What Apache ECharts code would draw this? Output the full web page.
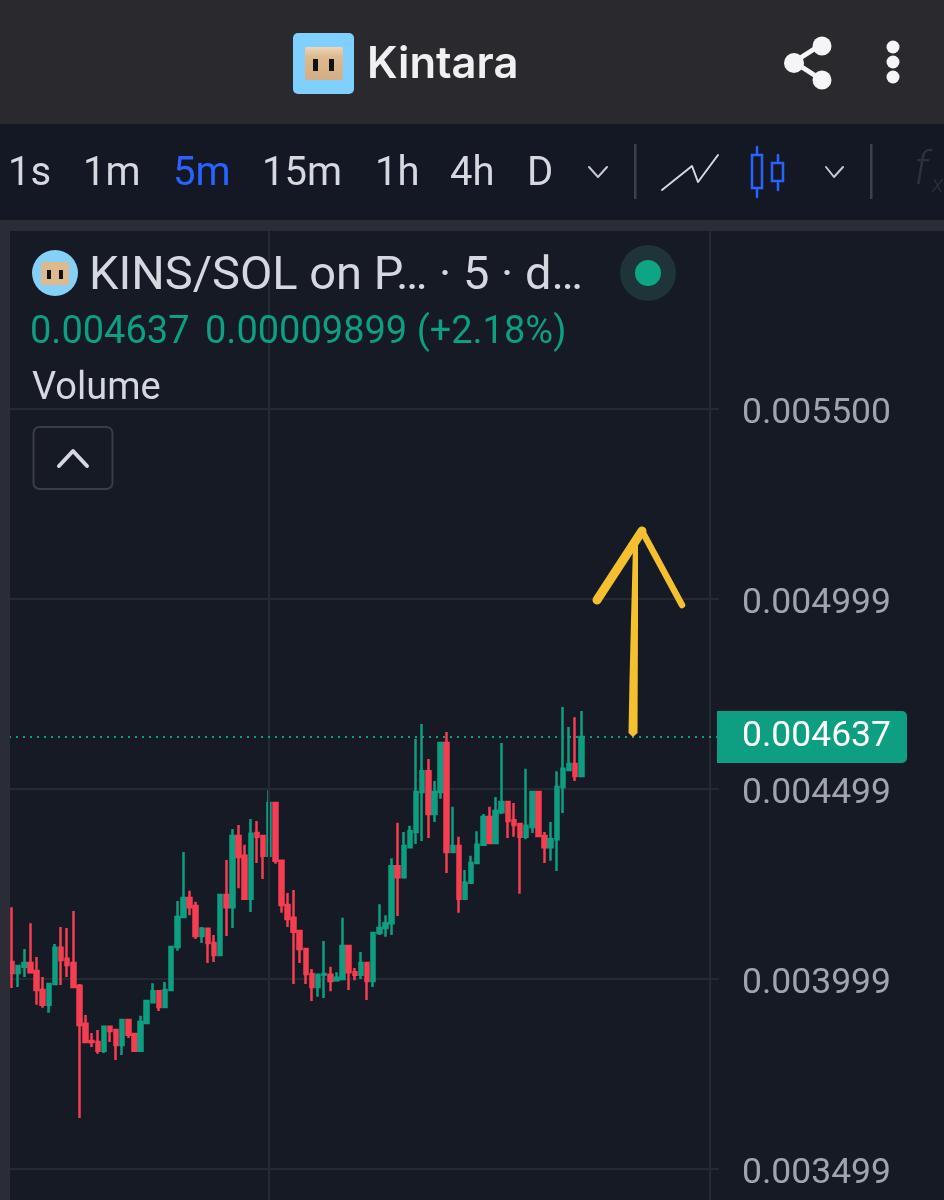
<!DOCTYPE html>
<html><head><meta charset="utf-8">
<style>html,body{margin:0;padding:0;background:#161a25}#c{width:944px;height:1200px}</style>
<script src="https://cdn.jsdelivr.net/npm/echarts@6/dist/echarts.min.js"></script>
</head><body><div id="c"></div>
<script>
// prices in millionths of SOL
const opens=[4045,4016,4032,4042,4021,3971,3932,3987,4082,4053,4042,3982,3882,3837,3834,3811,3874,3866,3826,3892,3855,3811,3884,3939,3968,3926,3971,4084,4163,4213,4192,4113,4132,4095,4063,4221,4189,4376,4324,4211,4384,4376,4324,4463,4311,4195,4161,4126,4079,4013,3979,4011,4011,3997,4000,4087,4018,4011,4042,3995,4121,4134,4147,4297,4268,4347,4387,4492,4547,4434,4492,4621,4334,4350,4211,4253,4305,4353,4426,4358,4439,4466,4418,4408,4374,4400,4492,4376,4347,4368,4505,4550,4566,4534];
const closes=[4016,4034,4042,4018,3971,3932,3987,4082,4050,4037,3979,3879,3834,3834,3811,3874,3863,3826,3892,3853,3811,3887,3942,3968,3926,3971,4084,4163,4213,4189,4113,4132,4095,4063,4221,4189,4376,4321,4211,4382,4374,4324,4463,4311,4195,4158,4124,4079,4013,3979,4011,4013,3995,4003,4087,4018,4011,4042,3995,4121,4134,4147,4297,4268,4350,4389,4492,4547,4434,4492,4621,4334,4350,4211,4253,4305,4353,4426,4358,4442,4466,4416,4405,4374,4403,4492,4376,4347,4368,4505,4553,4566,4534,4637];
const lows=[3976,3979,4005,4016,3932,3924,3911,3987,3984,4005,3979,3634,3834,3821,3803,3805,3834,3787,3800,3845,3811,3811,3882,3939,3916,3926,3971,4074,4163,4168,4105,4095,4042,4045,4063,4113,4134,4239,4211,4176,4305,4263,4324,4303,4174,4137,3987,4042,3987,3942,3953,3950,3968,3995,4000,3971,3997,4000,3945,3979,4116,4111,4116,4166,4268,4345,4355,4363,4371,4413,4474,4279,4334,4174,4211,4253,4305,4353,4358,4358,4434,4371,4374,4224,4368,4384,4376,4305,4311,4284,4437,4550,4521,4534];
const highs=[4189,4034,4079,4147,4058,4005,3989,4092,4137,4134,4179,3987,3905,3858,3866,3876,3876,3868,3892,3892,3855,3903,3942,3989,3971,3992,4084,4205,4334,4232,4203,4137,4132,4116,4224,4313,4395,4405,4353,4421,4416,4379,4497,4463,4311,4226,4234,4126,4079,4026,4011,4100,4032,4018,4161,4087,4029,4071,4042,4121,4197,4168,4318,4411,4387,4403,4632,4671,4579,4521,4621,4650,4453,4374,4287,4324,4389,4434,4453,4479,4621,4466,4463,4408,4553,4492,4492,4387,4413,4547,4716,4663,4689,4705];
const lastPrice=4637;
const emptySlots=22;
const tickValues=[5500,5000,4500,4000,3500];
const tickLabels=["0.005500","0.004999","0.004499","0.003999","0.003499"];
const vLineSlots=[42,114];
const timeframes=["1s","1m","5m","15m","1h","4h","D"];
const timeframeX=[8,83,173,262,375,450,527];

const GREEN='#0e9e81',RED='#f43e52',BG='#161a25',GRID='#252934';
const categories=opens.map((_,i)=>String(i)).concat(Array.from({length:emptySlots},(_,i)=>'e'+i));
const candles=opens.map((o,i)=>[o,closes[i],lows[i],highs[i]]);
const F='Roboto';
const rect=(x,y,w,h,fill,r,z)=>({type:'rect',shape:{x,y,width:w,height:h,r:r||0},style:{fill},z:z||5,silent:true});
// cy is the vertical middle of the text line
const txt=(x,cy,t,size,fill,extra)=>({type:'text',x,y:cy,style:Object.assign({text:t,font:`400 ${size}px ${F}`,fill,verticalAlign:'middle',align:'left'},extra||{}),z:20,silent:true});
const poly=(pts,stroke,w,extra)=>({type:'polyline',shape:Object.assign({points:pts},extra||{}),style:{stroke,lineWidth:w,fill:null,lineCap:'round',lineJoin:'round'},z:20,silent:true});
const circ=(cx,cy,r,fill)=>({type:'circle',shape:{cx,cy,r},style:{fill},z:20,silent:true});
const YEL='#f5c030';

const gfx=[
 rect(0,0,944,124,'#2a2a2e'),
 rect(0,124,944,96,'#141824'),
 rect(0,220,944,11,'#2a2d35'),
 rect(0,220,10,980,'#2a2d35',0,15),
 // brand
 rect(293,33,61,61,'#7fd0ff',5,20),
 {type:'rect',shape:{x:305,y:47,width:38,height:33,r:2},style:{fill:{type:'linear',x:0,y:0,x2:0,y2:1,colorStops:[{offset:0,color:'#f0d6b4'},{offset:.3,color:'#dcb98f'},{offset:1,color:'#d4ae84'}]}},z:21,silent:true},
 rect(313,59,5,12,'#111',0,22),rect(329,59,5,12,'#111',0,22),
 txt(367,65,'Kintara',43.5,'#f0f0f2',{font:`600 43.5px Inter`}),
 // share + menu
 poly([[822,44],[794,62],[822,80]],'#f5f5f7',5),
 circ(822,46,9.5,'#f5f5f7'),circ(794,63,10,'#f5f5f7'),circ(822,80,9.5,'#f5f5f7'),
 circ(893,47,6.5,'#f5f5f7'),circ(893,62,6.5,'#f5f5f7'),circ(893,77,6.5,'#f5f5f7'),
 // toolbar
 ...timeframes.map((t,i)=>txt(timeframeX[i],175,t,40,t==='5m'?'#2962ff':'#d6d8e0')),
 poly([[589,167],[598,177],[607,167]],'#c8cad2',2),
 poly([[826,167],[834,177],[843,167]],'#c8cad2',2),
 rect(634,144,2.5,55,'#3d4048',0,20),rect(870,144,2.5,55,'#3d4048',0,20),
 poly([[662,190],[692,166],[698,182],[718,155]],'#d6d8e0',2),
 poly([[757,147],[757,197]],'#2962ff',2.5),poly([[778,155],[778,190]],'#2962ff',2.5),
 {type:'rect',shape:{x:752,y:155,width:10,height:33},style:{fill:'#141824',stroke:'#2962ff',lineWidth:2.5},z:21,silent:true},
 {type:'rect',shape:{x:772,y:163,width:11,height:18},style:{fill:'#141824',stroke:'#2962ff',lineWidth:2.5},z:21,silent:true},
 txt(914,172,'f',46,'#2c3039',{font:`italic 300 46px ${F}`}),
 txt(932,186,'x',24,'#2c3039',{font:`italic 300 24px ${F}`}),
 // legend
 circ(55,273,23,'#86d0f8'),
 rect(41,262,28,23,'#dcb98f',2,21),rect(47,270,4,9,'#111',0,22),rect(59,270,4,9,'#111',0,22),
 txt(89,277,'KINS/SOL on P… · 5 · d…',47,'#d6d8e0'),
 txt(30,333,'0.004637',38,GREEN),
 txt(205,333,'0.00009899 (+2.18%)',38,GREEN),
 txt(32,389,'Volume',38,'#d6d8e0'),
 circ(648,273,28,'#1e3438'),circ(648,273,13,'#0ea585'),
 {type:'rect',shape:{x:33.5,y:427,width:79,height:62,r:6},style:{fill:BG,stroke:'#3a3d46',lineWidth:2},z:20,silent:true},
 poly([[59,466],[73,451],[87,466]],'#d6d8e0',4),
 // hand-drawn arrow
 {type:'polygon',shape:{points:[[628.5,733],[629.5,680],[631,620],[633,545],[638,545],[638,620],[637.5,733],[633,737]]},style:{fill:YEL},z:20,silent:true},
 poly([[597,600],[642,531]],YEL,9),
 poly([[642,531],[682,605]],YEL,6.5)
];

const chart=echarts.init(document.getElementById('c'),null,{renderer:'canvas',width:944,height:1200});
chart.setOption({
 animation:false,
 backgroundColor:BG,
 graphic:{elements:gfx},
 grid:{left:9,top:231,width:710,height:969,containLabel:false},
 xAxis:{type:'category',data:categories,axisLine:{show:false},axisTick:{show:false},axisLabel:{show:false},splitLine:{show:false}},
 yAxis:{type:'value',position:'right',min:3418.4,max:5968.4,
  axisLine:{show:false},
  axisTick:{show:false,customValues:tickValues},
  splitLine:{show:true,lineStyle:{color:GRID,width:2}},
  axisLabel:{customValues:tickValues,margin:23,color:'#a0a4ae',fontFamily:F,fontSize:35.5,verticalAlign:'top',lineHeight:10,
    formatter:v=>tickLabels[tickValues.indexOf(v)]}},
 series:[
  {type:'line',data:[],z:1,
   markLine:{symbol:'none',silent:true,animation:false,
    data:vLineSlots.map(i=>({xAxis:categories[i],lineStyle:{color:GRID,width:2,type:'solid'},label:{show:false}}))}},
  {type:'candlestick',data:candles,barWidth:4,z:3,
   itemStyle:{color:GREEN,color0:RED,borderColor:GREEN,borderColor0:RED,borderWidth:2.5},
   markLine:{symbol:'none',silent:true,animation:false,
    data:[{yAxis:lastPrice,lineStyle:{color:GREEN,width:2,type:[2,5]},
     label:{show:true,position:'end',distance:-2,formatter:'0.004637',color:'#fff',fontFamily:F,fontSize:35.5,lineHeight:36,
      backgroundColor:GREEN,padding:[12,16,4,25],borderRadius:[0,5,5,0]}}]}}]
});
</script></body></html>
